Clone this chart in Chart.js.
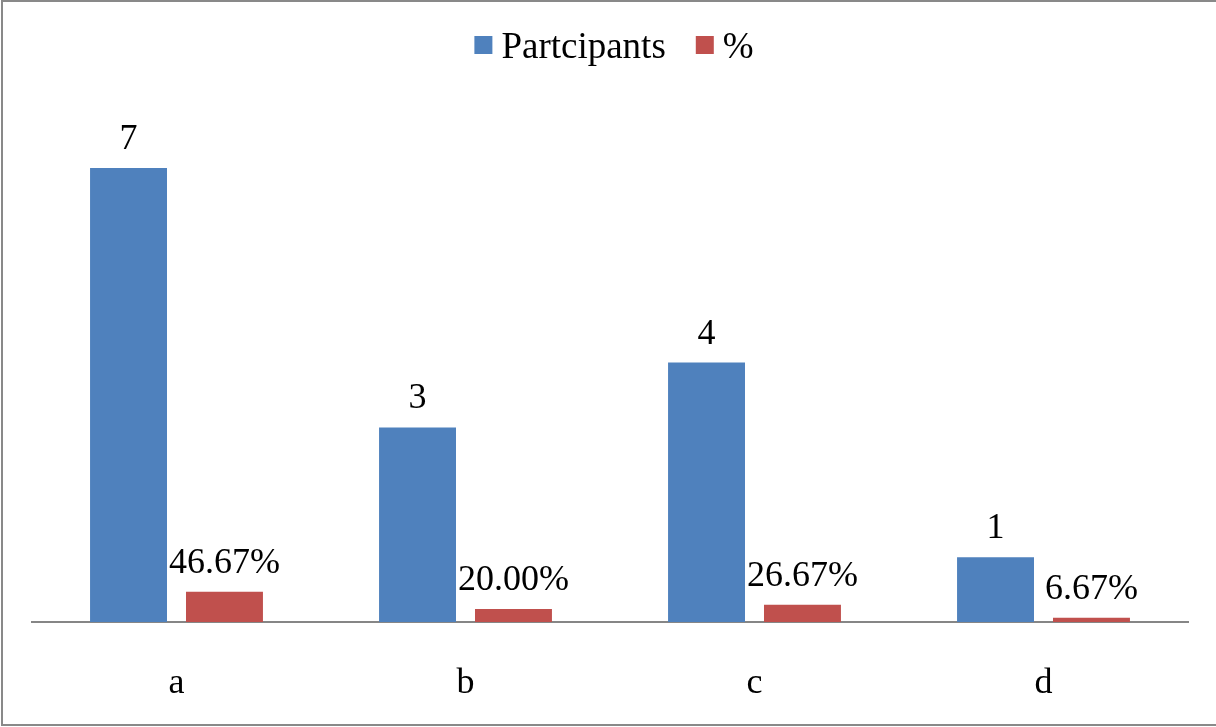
<!DOCTYPE html>
<html>
<head>
<meta charset="utf-8">
<script src="https://cdn.jsdelivr.net/npm/chart.js@4"></script>
<style>
  html, body { margin: 0; padding: 0; background: #ffffff; }
  #wrap { width: 1216px; height: 727px; }
</style>
</head>
<body>
<div id="wrap"><canvas id="chart" width="1216" height="727"></canvas></div>
<script>
// Categories and series values
const categories = ['a', 'b', 'c', 'd'];
const participants = [7, 3, 4, 1];
const percentShare = [0.4667, 0.2000, 0.2667, 0.0667];
const seriesNames = ['Partcipants', '%'];
const seriesColors = ['#4F81BD', '#C0504D'];

const FONT = "'Liberation Serif', 'Times New Roman', serif";
const FONT_SIZE = 36;
const LEGEND_FONT_SIZE = 37;

// Value labels drawn above every bar
const valueLabels = {
  id: 'valueLabels',
  afterDatasetsDraw(chart) {
    const ctx = chart.ctx;
    ctx.save();
    ctx.font = FONT_SIZE + 'px ' + FONT;
    ctx.fillStyle = '#000000';
    ctx.textAlign = 'center';
    ctx.textBaseline = 'alphabetic';
    chart.data.datasets.forEach((ds, di) => {
      const meta = chart.getDatasetMeta(di);
      meta.data.forEach((bar, i) => {
        const v = ds.data[i];
        const txt = di === 0 ? String(v) : (v * 100).toFixed(2) + '%';
        ctx.fillText(txt, bar.x, bar.y - 19);
      });
    });
    ctx.restore();
  }
};

// Frame, background and top legend
const frameAndLegend = {
  id: 'frameAndLegend',
  beforeDraw(chart) {
    const ctx = chart.ctx;
    ctx.save();
    ctx.fillStyle = '#ffffff';
    ctx.fillRect(0, 0, chart.width, chart.height);
    ctx.restore();
  },
  afterDraw(chart) {
    const ctx = chart.ctx;
    ctx.save();
    // outer frame
    ctx.strokeStyle = '#898989';
    ctx.lineWidth = 2;
    ctx.strokeRect(2, 1, chart.width + 10, chart.height - 3);

    // legend
    ctx.font = LEGEND_FONT_SIZE + 'px ' + FONT;
    ctx.textBaseline = 'alphabetic';
    ctx.textAlign = 'left';
    const box = 18, gapText = 9, gapItem = 30;
    const items = chart.data.datasets.map(ds => ({
      label: ds.label, color: ds.backgroundColor, w: ctx.measureText(ds.label).width
    }));
    let total = 0;
    items.forEach((it, k) => { total += box + gapText + it.w + (k < items.length - 1 ? gapItem : 0); });
    const ca = chart.chartArea;
    let x = (ca.left + ca.right) / 2 + 4 - total / 2;
    const boxTop = 36, baseY = 58;
    items.forEach(it => {
      ctx.fillStyle = it.color;
      ctx.fillRect(x, boxTop, box, box);
      x += box + gapText;
      ctx.fillStyle = '#000000';
      ctx.fillText(it.label, x, baseY);
      x += it.w + gapItem;
    });
    ctx.restore();
  }
};

new Chart(document.getElementById('chart'), {
  type: 'bar',
  data: {
    labels: categories,
    datasets: [
      { label: seriesNames[0], data: participants, backgroundColor: seriesColors[0], borderWidth: 0 },
      { label: seriesNames[1], data: percentShare, backgroundColor: seriesColors[1], borderWidth: 0 }
    ]
  },
  options: {
    responsive: false,
    animation: false,
    devicePixelRatio: 1,
    layout: { padding: { left: 32, right: 28, top: 103, bottom: 0 } },
    datasets: { bar: { categoryPercentage: 0.664, barPercentage: 0.802 } },
    plugins: {
      legend: { display: false },
      tooltip: { enabled: false }
    },
    scales: {
      x: {
        grid: { display: false, drawTicks: false },
        border: { display: true, color: '#868686', width: 2 },
        ticks: { color: '#000000', font: { family: FONT, size: FONT_SIZE }, padding: 40 },
        afterFit(scale) { scale.height = 105; }
      },
      y: {
        display: false,
        min: 0,
        max: 8
      }
    }
  },
  plugins: [frameAndLegend, valueLabels]
});
</script>
</body>
</html>
